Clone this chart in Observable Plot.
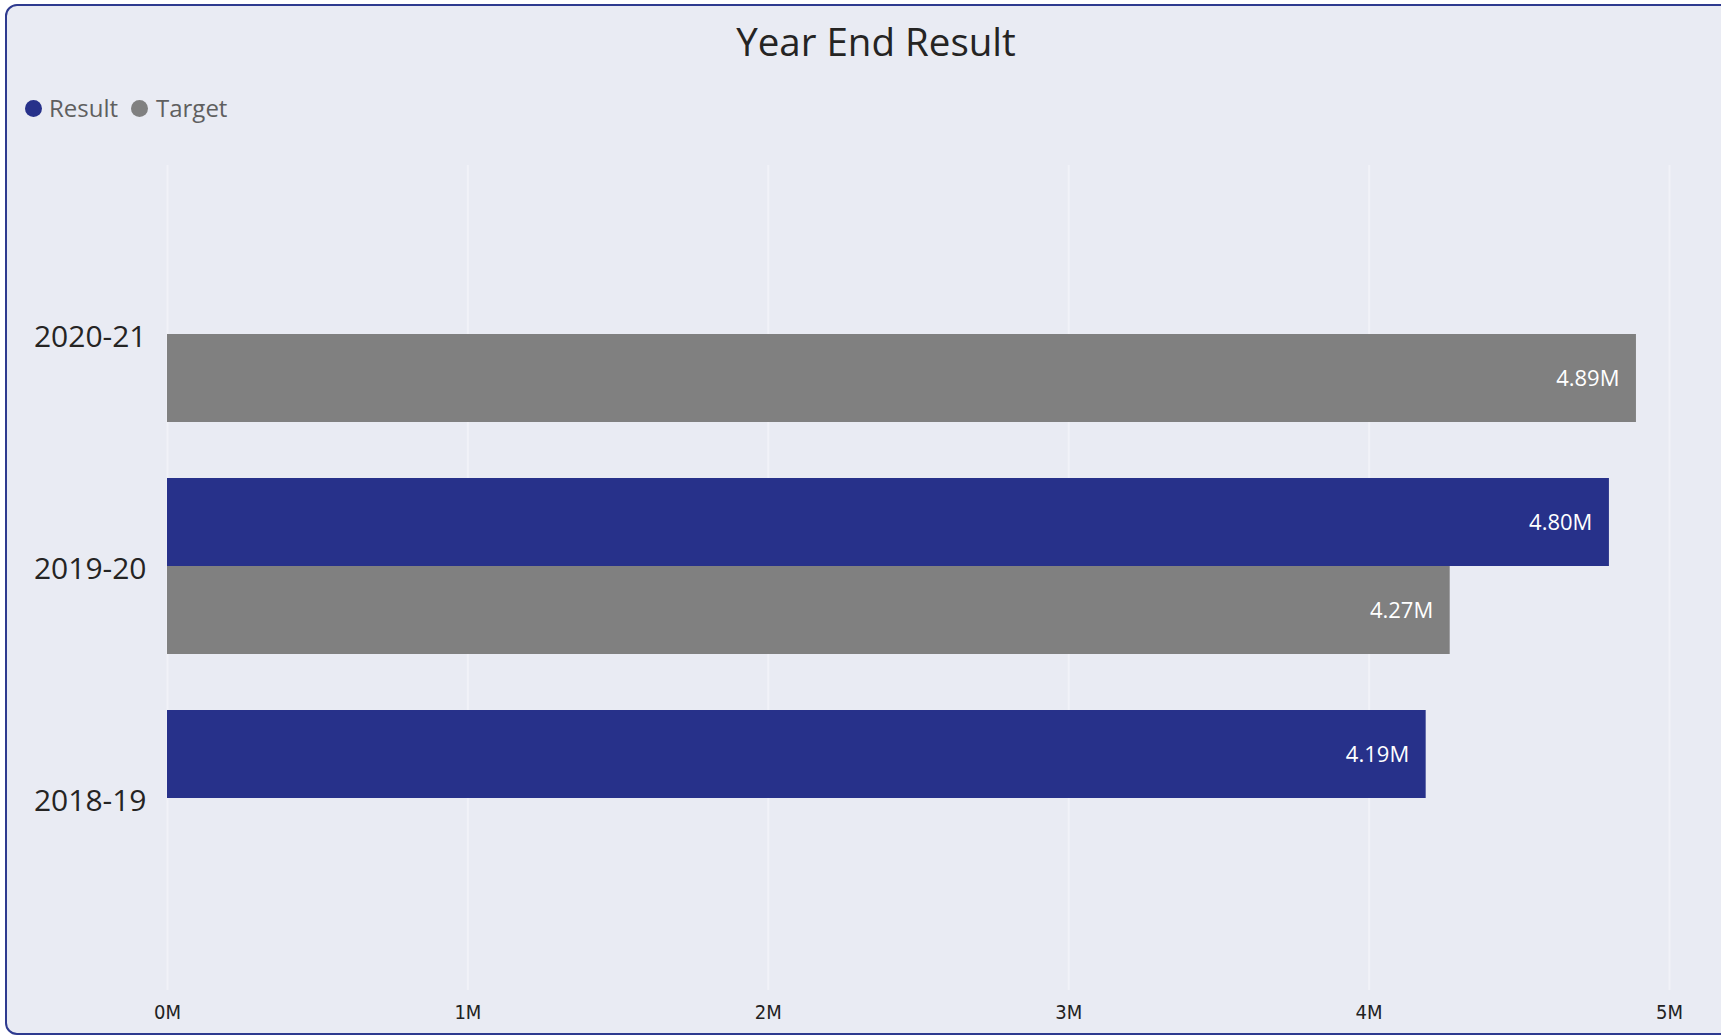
<!DOCTYPE html>
<html>
<head>
<meta charset="utf-8">
<script src="https://cdn.jsdelivr.net/npm/d3@7"></script>
<script src="https://cdn.jsdelivr.net/npm/@observablehq/plot@0.6"></script>
<style>
  html, body { margin: 0; padding: 0; background: #ffffff; width: 1721px; height: 1036px; overflow: hidden; font-family: "Open Sans", "Noto Sans", sans-serif; }
  #card { position: absolute; left: 5px; top: 4px; width: 1800px; height: 1031px; border: 2px solid #2e3a8f; border-radius: 12px; background: #e9ebf3; box-sizing: border-box; }
  #title { position: absolute; left: 0; top: 22px; width: 1752px; text-align: center; font-size: 38.5px; line-height: 38px; color: #252423; }
  .dot { position: absolute; width: 17px; height: 17px; border-radius: 50%; }
  .leg { position: absolute; font-size: 24px; line-height: 24px; color: #5f5f5f; }
  #chart { position: absolute; left: 0; top: 140px; }
  #chart g[aria-label="x-axis tick label"] text { font-stretch: condensed; }
</style>
</head>
<body>
<div id="card"></div>
<div id="title">Year End Result</div>
<div class="dot" style="left:25px; top:100px; background:#27318a;"></div>
<div class="leg" style="left:49px; top:96px;">Result</div>
<div class="dot" style="left:131px; top:100px; background:#808080;"></div>
<div class="leg" style="left:156px; top:96px;">Target</div>
<div id="chart"></div>
<script>
const years = ["2020-21", "2019-20", "2018-19"];
const seriesNames = ["Result", "Target"];
const seriesColors = ["#27318a", "#808080"];
const resultYears = ["2019-20", "2018-19"];
const resultValues = [4.80, 4.19];
const targetYears = ["2020-21", "2019-20"];
const targetValues = [4.89, 4.27];
const xTicks = [0, 1, 2, 3, 4, 5];
const xTickLabels = ["0M", "1M", "2M", "3M", "4M", "5M"];

const resultRows = resultYears.map((y, i) => ({year: y, value: resultValues[i], series: seriesNames[0]}));
const targetRows = targetYears.map((y, i) => ({year: y, value: targetValues[i], series: seriesNames[1]}));
const fmt = d => d.value.toFixed(2) + "M";

const chart = Plot.plot({
  width: 1721,
  height: 896,
  marginLeft: 167,
  marginRight: 52,
  marginTop: 25,
  marginBottom: 46,
  style: {background: "transparent", overflow: "visible"},
  x: {domain: [0, 5]},
  y: {domain: years, paddingInner: 0.2414, paddingOuter: 0.3985, align: 0.438},
  marks: [
    Plot.ruleX(xTicks, {stroke: "#f1f2f8", strokeWidth: 2}),
    Plot.barX(resultRows, {x: "value", y: "year", fill: seriesColors[0], insetBottom: 88}),
    Plot.barX(targetRows, {x: "value", y: "year", fill: seriesColors[1], insetTop: 88}),
    Plot.text(resultRows, {x: "value", y: "year", text: fmt, textAnchor: "end", dx: -17, dy: -44, fill: "white", fontSize: 22, fontFamily: "Open Sans"}),
    Plot.text(targetRows, {x: "value", y: "year", text: fmt, textAnchor: "end", dx: -17, dy: 44, fill: "white", fontSize: 22, fontFamily: "Open Sans"}),
    Plot.axisX(xTicks, {tickSize: 0, tickPadding: 14, tickFormat: d => xTickLabels[xTicks.indexOf(d)], fontSize: 20, fontFamily: "DejaVu Sans Condensed, DejaVu Sans", fill: "#222222", label: null}),
    Plot.axisY({tickSize: 0, tickPadding: 21, fontSize: 30, fontFamily: "Open Sans", fill: "#252423", label: null, dy: 3})
  ]
});
document.getElementById("chart").appendChild(chart);
</script>
</body>
</html>
